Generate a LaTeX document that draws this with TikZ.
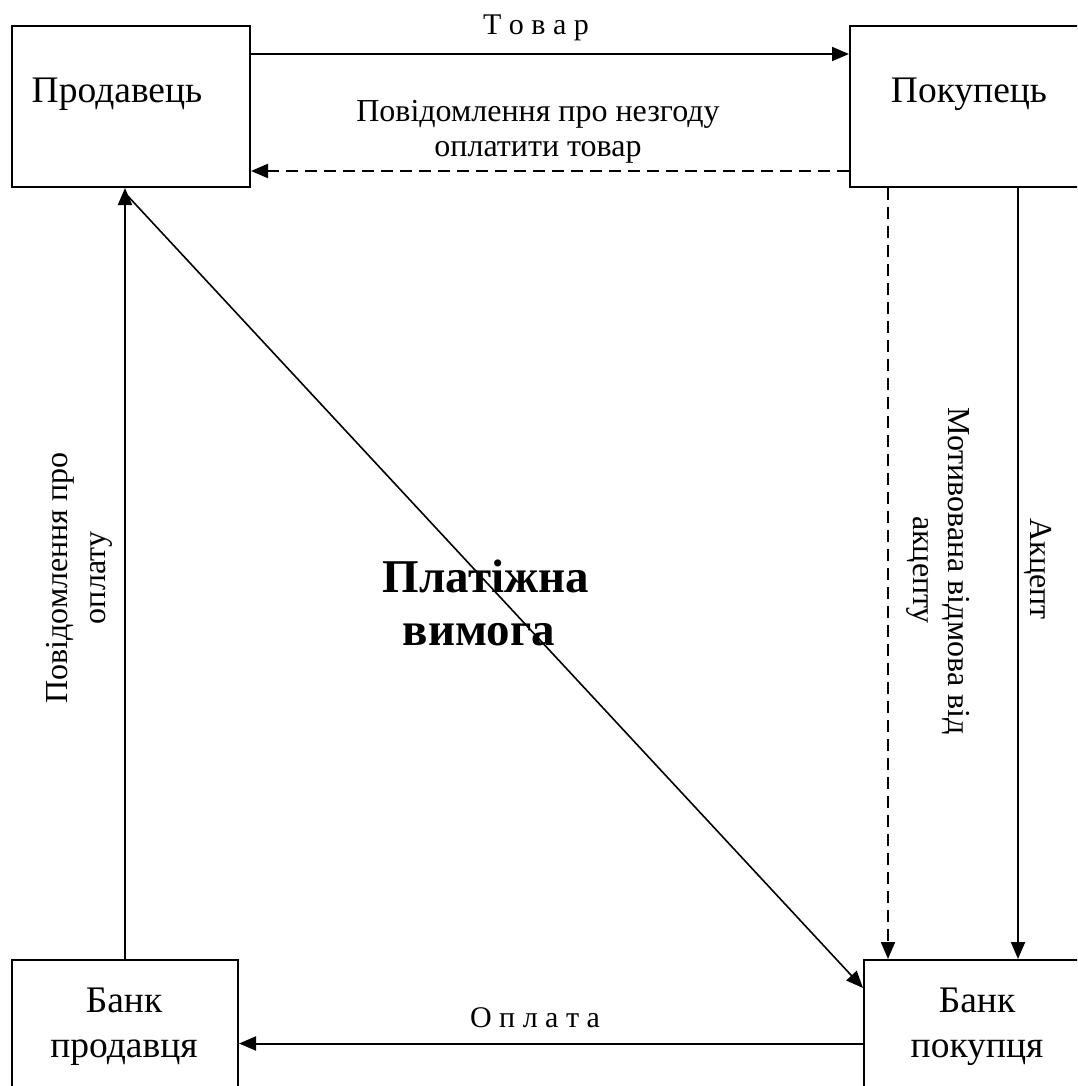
\documentclass[tikz,border=0pt]{standalone}
\usepackage{fontspec}
\setmainfont{Liberation Serif}
\usetikzlibrary{arrows.meta,calc}
\tikzset{
  box/.style={draw, line width=2pt, inner sep=0pt, anchor=north west},
  boxtxt/.style={font=\fontsize{37.5}{45}\selectfont, inner sep=0pt, anchor=base},
  lbl/.style={font=\fontsize{32}{38}\selectfont, inner sep=0pt, anchor=base},
  sptxt/.style={font=\fontsize{30}{36}\selectfont, inner sep=0pt, anchor=base},
  rottxt/.style={font=\fontsize{32}{38}\selectfont, inner sep=0pt, anchor=base},
  boldtxt/.style={font=\fontsize{47}{55}\selectfont\bfseries, inner sep=0pt, anchor=base},
  conn/.style={line width=2pt, -{Triangle[length=17pt,width=14pt]}},
  dconn/.style={conn, dash pattern=on 12pt off 7pt}
}
\begin{document}
\begin{tikzpicture}[x=1pt,y=-1pt]
\useasboundingbox (0,0) rectangle (1077,1086);
\clip (0,0) rectangle (1077,1086);
\fill[white] (0,0) rectangle (1077,1086);
% boxes
\node[box, minimum width=238pt, minimum height=161pt] (prod) at (11,25) {};
\node[box, minimum width=251pt, minimum height=161pt] (pok) at (849,25) {};
\node[box, minimum width=226pt, minimum height=150pt] (bprod) at (11,959) {};
\node[box, minimum width=237pt, minimum height=150pt] (bpok) at (863,959) {};
% box texts
\node[boxtxt] (prodT) at (117,103) {Продавець};
\node[boxtxt] (pokT) at (969,103) {Покупець};
\node[boxtxt] (bprodT1) at (124,1012) {Банк};
\node[boxtxt] (bprodT2) at (124,1057) {продавця};
\node[boxtxt] (bpokT1) at (977,1012) {Банк};
\node[boxtxt] (bpokT2) at (977,1057) {покупця};
% connectors
\draw[conn] ([yshift=52.5pt]prod.east) -- ([yshift=52.5pt]prod.east -| pok.west);
\draw[dconn] ([yshift=-64.5pt]pok.west) -- ([yshift=-64.5pt]pok.west -| prod.east);
\draw[conn] (bprod.north) -- (bprod.north |- prod.south);
\coordinate (dstart) at ($(bprod.north |- prod.south)+(0,5)$);
\draw[conn, line width=1.6pt] (dstart) -- ([yshift=47pt]bpok.west);
\draw[dconn] ([xshift=-87.5pt]pok.south) -- ([xshift=-87.5pt]pok.south |- bpok.north);
\draw[conn] ([xshift=42.5pt]pok.south) -- ([xshift=42.5pt]pok.south |- bpok.north);
\draw[conn] ([yshift=-8.5pt]bpok.west) -- ([yshift=-8.5pt]bpok.west -| bprod.east);
% labels
\node[sptxt] (tovar) at (536,35) {Т о в а р};
\node[lbl] (nez1) at (538,122) {Повідомлення про незгоду};
\node[lbl] (nez2) at (538,157) {оплатити товар};
\node[sptxt] (oplata) at (535,1027) {О п л а т а};
\node[boldtxt] (pv1) at (486,592) {Платіжна};
\node[boldtxt] (pv2) at (479,645) {вимога};
\node[rottxt, rotate=90] (po1) at (67,578) {Повідомлення про};
\node[rottxt, rotate=90] (po2) at (105,578) {оплату};
\node[rottxt, rotate=-90] (mv1) at (948,571) {Мотивована відмова від};
\node[rottxt, rotate=-90] (mv2) at (913,570) {акцепту};
\node[rottxt, rotate=-90] (akc) at (1030,569) {Акцепт};
\end{tikzpicture}
\end{document}
